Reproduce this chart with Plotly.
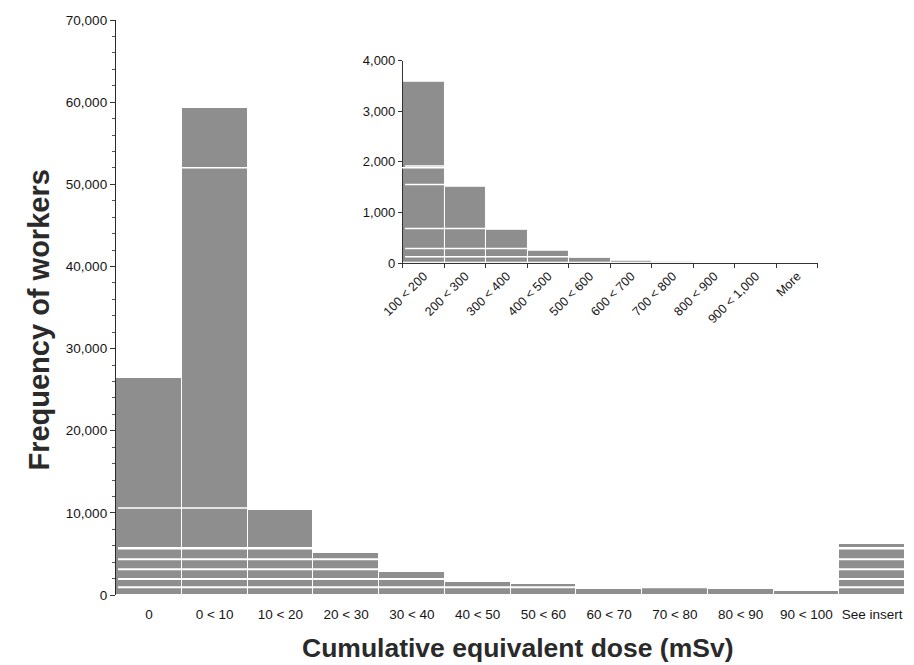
import plotly.graph_objects as go

# ---- data ----
main_categories = ["0", "0 < 10", "10 < 20", "20 < 30", "30 < 40", "40 < 50",
                   "50 < 60", "60 < 70", "70 < 80", "80 < 90", "90 < 100", "See insert"]
main_values = [26400, 59300, 10350, 5100, 2850, 1600, 1300, 700, 800, 700, 500, 6200]

inset_categories = ["100 < 200", "200 < 300", "300 < 400", "400 < 500", "500 < 600",
                    "600 < 700", "700 < 800", "800 < 900", "900 < 1,000", "More"]
inset_values = [3590, 1500, 650, 240, 100, 45, 20, 8, 5, 3]

x_title = "Cumulative equivalent dose (mSv)"
y_title = "Frequency of workers"

FONT = "Liberation Sans, Arial, Helvetica, sans-serif"
BAR = "#8e8e8e"
INK = "#151515"

fig = go.Figure()

fig.add_trace(go.Bar(
    x=main_categories, y=main_values,
    marker=dict(color=BAR, line=dict(color="white", width=1)),
    xaxis="x", yaxis="y", showlegend=False, hoverinfo="x+y",
))

fig.add_trace(go.Bar(
    x=inset_categories, y=inset_values,
    marker=dict(color=BAR, line=dict(color="white", width=1)),
    xaxis="x2", yaxis="y2", showlegend=False, hoverinfo="x+y",
))

# faint white scan streaks across the bars (decorative)
shapes = []
for yv, w in [(940, 2), (1950, 2), (3130, 2), (4350, 2), (5690, 2.5), (10600, 1.5), (52000, 1.5)]:
    shapes.append(dict(type="line", xref="x", yref="y", x0=-0.47, x1=11.5, y0=yv, y1=yv,
                       line=dict(color="white", width=w), layer="above"))
for yv in [125, 288, 683, 1550, 1917]:
    shapes.append(dict(type="line", xref="x2", yref="y2", x0=-0.45, x1=9.5, y0=yv, y1=yv,
                       line=dict(color="white", width=1.5), layer="above"))

fig.update_layout(
    width=914, height=665,
    margin=dict(l=116, r=9, t=20, b=70),
    paper_bgcolor="white", plot_bgcolor="white",
    bargap=0,
    font=dict(family=FONT, color=INK, size=13),
    shapes=shapes,
    xaxis=dict(
        type="category", domain=[0, 1], range=[-0.5, 11.5],
        showline=False, ticks="", showgrid=False, zeroline=False,
        ticklabelstandoff=9,
        tickfont=dict(size=13.5, color=INK),
    ),
    yaxis=dict(
        range=[0, 70000], dtick=10000, tickformat=",",
        showline=True, linecolor="#2a2a2a", linewidth=1.3,
        ticks="outside", ticklen=5, tickcolor="#333",
        minor=dict(dtick=2000, ticks="outside", ticklen=3, tickcolor="#555"),
        showgrid=False, zeroline=False,
        tickfont=dict(size=13.5, color=INK),
    ),
    xaxis2=dict(
        type="category", domain=[0.3637, 0.8897], anchor="y2", range=[-0.5, 9.5],
        showline=True, linecolor="#333", linewidth=1,
        ticks="outside", ticklen=4, tickcolor="#333", tickson="boundaries",
        tickangle=-45, showgrid=False, zeroline=False,
        tickfont=dict(size=12.5, color=INK),
    ),
    yaxis2=dict(
        domain=[0.5774, 0.9292], anchor="x2", range=[0, 4000], dtick=1000, tickformat=",",
        showline=True, linecolor="#333", linewidth=1,
        ticks="outside", ticklen=4, tickcolor="#333",
        showgrid=False, zeroline=False,
        tickfont=dict(size=13, color=INK),
    ),
    annotations=[
        dict(text="<b>" + x_title + "</b>", xref="paper", yref="paper",
             x=0.5095, y=-0.092, xanchor="center", yanchor="middle", showarrow=False,
             font=dict(size=26.5, color="#2a2a2a", family=FONT)),
        dict(text="<b>" + y_title + "</b>", xref="paper", yref="paper",
             x=-0.0976, y=0.479, xanchor="center", yanchor="middle", showarrow=False,
             textangle=-90, font=dict(size=29, color="#2a2a2a", family=FONT)),
    ],
)

fig.write_html("out.html",
               config={"displayModeBar": False},
               post_script="document.body.style.margin='0';document.body.style.overflow='hidden';")
